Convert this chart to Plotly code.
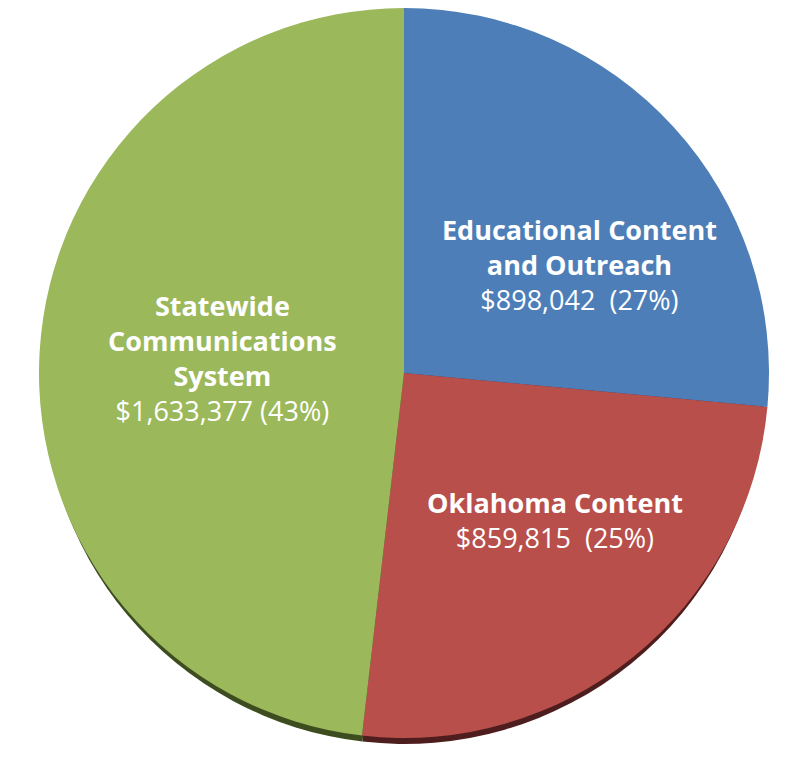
import plotly.graph_objects as go

titles = ["Educational Content<br>and Outreach", "Oklahoma Content", "Statewide<br>Communications<br>System"]
values = [898042, 859815, 1633377]
value_labels = ["$898,042  (27%)", "$859,815  (25%)", "$1,633,377 (43%)"]
colors = ["#4d7eb8", "#b84f4b", "#9bb85b"]
edge_colors = ["#2b466a", "#4e1e1e", "#3d4d20"]
# label block centres (page pixels)
label_pos = [(579, 264), (555, 520), (222, 358)]

W, H = 792, 758
OFF = 8  # page body margin
cx, cy, r = 404 - OFF, 369 - OFF, 369
shadow_shift, shadow_shrink = 14, 8

def dom(cx, cy, r):
    y0 = max(0.0, 1 - (cy + r) / H)
    y1 = min(1.0, 1 - (cy - r) / H)
    return dict(x=[(cx - r) / W, (cx + r) / W], y=[y0, y1])

fig = go.Figure()
fig.add_trace(go.Pie(
    values=values, labels=titles, sort=False, direction="clockwise", rotation=0,
    marker=dict(colors=edge_colors, line=dict(width=0)),
    textinfo="none", hoverinfo="skip", showlegend=False,
    domain=dom(cx, cy + shadow_shift, r - shadow_shrink),
))
fig.add_trace(go.Pie(
    values=values, labels=titles, sort=False, direction="clockwise", rotation=0,
    marker=dict(colors=colors, line=dict(width=0)),
    textinfo="none", showlegend=False,
    domain=dom(cx, cy, r),
))
for t, v, (px, py) in zip(titles, value_labels, label_pos):
    fig.add_annotation(
        x=(px - OFF) / W, y=1 - (py - OFF) / H, xref="paper", yref="paper",
        xanchor="center", yanchor="middle", showarrow=False, align="center",
        text=f"<b>{t}</b><br>{v}",
        font=dict(family="Open Sans", size=27, color="white"),
    )
fig.update_layout(
    width=W, height=H, margin=dict(l=0, r=0, t=0, b=0),
    paper_bgcolor="white", plot_bgcolor="white",
)
fig.write_html("out.html")
